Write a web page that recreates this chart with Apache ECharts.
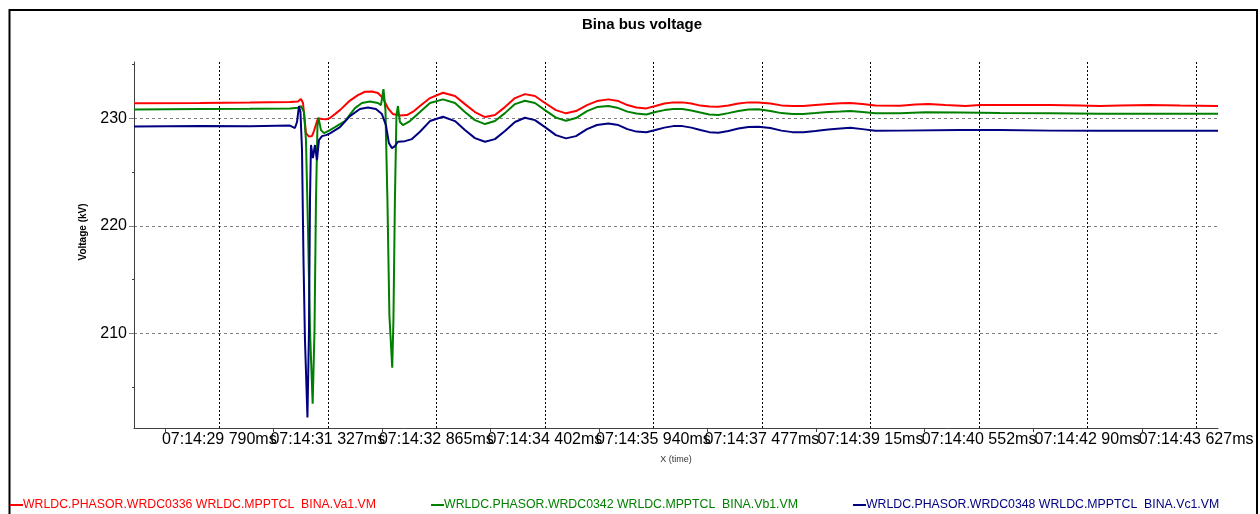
<!DOCTYPE html>
<html>
<head>
<meta charset="utf-8">
<script src="https://cdn.jsdelivr.net/npm/echarts@6/dist/echarts.min.js"></script>
<style>
  html, body { margin: 0; padding: 0; background: #fff; }
  #chart { width: 1260px; height: 514px; }
</style>
</head>
<body>
<div id="chart"></div>
<script>
// time in ms after 07:14:00, voltage in kV
var seriesNames = [
  'WRLDC.PHASOR.WRDC0336 WRLDC.MPPTCL  BINA.Va1.VM',
  'WRLDC.PHASOR.WRDC0342 WRLDC.MPPTCL  BINA.Vb1.VM',
  'WRLDC.PHASOR.WRDC0348 WRLDC.MPPTCL  BINA.Vc1.VM'
];
var seriesColors = ['#ff0000', '#008000', '#000080'];

var xTickMs = [29790, 31327.5, 32865, 34402.5, 35940, 37477.5, 39015, 40552.5, 42090, 43627.5];
var yLabelTicks = [210, 220, 230];
var yMinorTicks = [205, 215, 225, 235];

var vaData = [
  [28582, 231.40], [29517, 231.43], [30225, 231.47], [30792, 231.52], [30905, 231.57],
  [30947, 231.80], [30976, 231.43], [31018, 228.63], [31061, 228.30], [31103, 228.35],
  [31131, 228.82], [31188, 230.00], [31245, 229.95], [31302, 229.91], [31358, 230.03],
  [31500, 230.77], [31641, 231.66], [31754, 232.17], [31854, 232.48], [31953, 232.50],
  [32038, 232.36], [32108, 231.89], [32179, 230.96], [32250, 230.40], [32349, 230.26],
  [32448, 230.31], [32548, 230.68], [32633, 231.15], [32775, 231.89], [32959, 232.39],
  [33129, 232.08], [33270, 231.33], [33412, 230.59], [33554, 230.12], [33695, 230.31],
  [33837, 231.05], [33979, 231.89], [34120, 232.26], [34262, 232.08], [34404, 231.43],
  [34559, 230.77], [34701, 230.47], [34843, 230.68], [34999, 231.24], [35140, 231.61],
  [35302, 231.77], [35444, 231.61], [35571, 231.24], [35699, 231.01], [35840, 230.93],
  [35968, 231.15], [36095, 231.38], [36222, 231.49], [36350, 231.49], [36477, 231.38],
  [36605, 231.19], [36732, 231.10], [36860, 231.08], [37002, 231.19], [37144, 231.38],
  [37285, 231.49], [37427, 231.49], [37597, 231.38], [37753, 231.21], [37909, 231.15],
  [38064, 231.15], [38234, 231.24], [38418, 231.33], [38588, 231.40], [38730, 231.43],
  [38900, 231.33], [39084, 231.21], [39438, 231.17], [39651, 231.29], [39835, 231.33],
  [40076, 231.24], [40359, 231.15], [40571, 231.24], [40849, 231.24], [41557, 231.24],
  [41982, 231.21], [42266, 231.15], [42549, 231.19], [42974, 231.24], [43399, 231.19],
  [43938, 231.15]
];

var vbData = [
  [28582, 230.82], [29517, 230.87], [30225, 230.89], [30792, 230.93], [30905, 230.99],
  [30947, 231.15], [30990, 230.59], [31018, 227.98], [31046, 219.96], [31075, 210.27],
  [31113, 203.44], [31139, 210.27], [31160, 222.39], [31181, 229.38], [31195, 230.07],
  [31231, 228.91], [31273, 228.63], [31358, 228.91], [31429, 229.19], [31570, 229.75],
  [31712, 230.96], [31811, 231.43], [31924, 231.57], [32038, 231.43], [32080, 231.24],
  [32116, 232.73], [32144, 230.77], [32172, 222.39], [32200, 211.67], [32240, 206.79],
  [32257, 211.20], [32278, 222.39], [32300, 230.31], [32321, 231.15], [32349, 229.66],
  [32392, 229.38], [32491, 229.75], [32633, 230.59], [32775, 231.43], [32959, 231.77],
  [33129, 231.43], [33270, 230.59], [33412, 229.84], [33554, 229.47], [33695, 229.75],
  [33837, 230.49], [33979, 231.33], [34120, 231.64], [34262, 231.43], [34404, 230.77],
  [34559, 230.07], [34701, 229.78], [34843, 230.03], [34999, 230.68], [35140, 231.05],
  [35302, 231.15], [35444, 230.96], [35571, 230.63], [35699, 230.45], [35840, 230.37],
  [35968, 230.59], [36095, 230.77], [36222, 230.87], [36350, 230.87], [36477, 230.73],
  [36605, 230.54], [36732, 230.37], [36860, 230.31], [37002, 230.49], [37144, 230.68],
  [37285, 230.82], [37427, 230.84], [37597, 230.68], [37753, 230.49], [37909, 230.40],
  [38064, 230.40], [38234, 230.49], [38418, 230.59], [38588, 230.63], [38730, 230.68],
  [38900, 230.59], [39084, 230.47], [39438, 230.47], [39792, 230.56], [40288, 230.54],
  [40849, 230.49], [41557, 230.47], [42266, 230.43], [42974, 230.43], [43938, 230.43]
];

var vcData = [
  [28582, 229.24], [29517, 229.28], [30225, 229.26], [30792, 229.33], [30862, 229.10],
  [30891, 229.66], [30919, 231.15], [30940, 230.59], [30962, 227.05], [30983, 216.79],
  [31004, 209.34], [31039, 202.16], [31061, 210.27], [31075, 222.39], [31089, 227.52],
  [31117, 226.30], [31145, 227.52], [31174, 226.11], [31202, 227.98], [31245, 228.35],
  [31302, 228.44], [31358, 228.60], [31500, 229.19], [31641, 230.21], [31783, 230.87],
  [31896, 231.01], [32009, 230.87], [32094, 230.40], [32151, 229.38], [32193, 227.70],
  [32236, 227.23], [32278, 227.42], [32321, 227.82], [32420, 227.88], [32519, 228.07],
  [32633, 228.75], [32775, 229.75], [32959, 230.15], [33129, 229.75], [33270, 228.91],
  [33412, 228.16], [33554, 227.82], [33695, 228.07], [33837, 228.82], [33979, 229.66],
  [34120, 230.06], [34262, 229.84], [34404, 229.19], [34559, 228.44], [34701, 228.14],
  [34843, 228.35], [34999, 229.00], [35140, 229.38], [35302, 229.53], [35444, 229.38],
  [35571, 229.00], [35699, 228.77], [35840, 228.70], [35968, 228.91], [36095, 229.14],
  [36222, 229.28], [36350, 229.28], [36477, 229.14], [36605, 228.91], [36732, 228.72],
  [36860, 228.66], [37002, 228.82], [37144, 229.05], [37285, 229.19], [37427, 229.22],
  [37597, 229.10], [37753, 228.86], [37909, 228.72], [38064, 228.70], [38234, 228.82],
  [38418, 228.96], [38588, 229.05], [38730, 229.12], [38900, 229.00], [39084, 228.84],
  [39438, 228.86], [40288, 228.91], [40849, 228.91], [41557, 228.86], [42266, 228.84],
  [42974, 228.84], [43938, 228.84]
];

var xMin = 28582, xMax = 43938;
var yMin = 201.17, yMax = 235.25;

// half-way ticks between the labelled grid lines
var xStep = xTickMs[1] - xTickMs[0];
var xMidTicks = xTickMs.map(function (v) { return v - xStep / 2; });
// the labels overlap a little; put every other one on a second axis
// so echarts does not drop the first/last one
var xLabelsEven = xTickMs.filter(function (v, i) { return i % 2 === 0; });
var xLabelsOdd = xTickMs.filter(function (v, i) { return i % 2 === 1; });

function fmtTime(v) {
  var s = Math.floor(v / 1000);
  var ms = Math.floor(v % 1000);
  return '07:14:' + (s < 10 ? '0' + s : s) + ' ' + ms + 'ms';
}

var xLabelStyle = { formatter: fmtTime, fontSize: 16, color: '#000', margin: 4 };

var chart = echarts.init(document.getElementById('chart'), null, { renderer: 'canvas' });

var allData = [vaData, vbData, vcData];

var option = {
  backgroundColor: '#fff',
  animation: false,
  textStyle: { fontFamily: 'Liberation Sans, Arial, sans-serif' },
  title: {
    text: 'Bina bus voltage',
    left: 577,
    top: 12,
    textStyle: { fontSize: 15, fontWeight: 'bold', color: '#000', fontFamily: 'Liberation Sans, Arial, sans-serif' }
  },
  graphic: [{
    type: 'rect',
    shape: { x: 9.5, y: 10, width: 1247.5, height: 520 },
    style: { fill: null, stroke: '#000', lineWidth: 2 },
    silent: true
  }],
  legend: {
    left: 10,
    top: 499,
    padding: 0,
    itemWidth: 13,
    itemHeight: 2,
    itemGap: 55,
    icon: 'rect',
    textStyle: { fontSize: 12.3, padding: [0, 0, 0, -5] },
    data: seriesNames.map(function (n, i) {
      return { name: n, textStyle: { color: seriesColors[i] } };
    })
  },
  grid: { left: 134, right: 42, top: 62, bottom: 86 },
  xAxis: [{
    type: 'value',
    min: xMin,
    max: xMax,
    position: 'bottom',
    name: 'X (time)',
    nameLocation: 'middle',
    nameGap: 27,
    nameTextStyle: { fontSize: 9, color: '#333' },
    axisLine: { lineStyle: { color: '#404040', width: 1 } },
    axisTick: { show: false, customValues: xTickMs },
    axisLabel: Object.assign({ customValues: xLabelsEven }, xLabelStyle),
    splitLine: { show: true, lineStyle: { color: '#000', type: [2, 2], width: 1 } }
  }, {
    type: 'value',
    min: xMin,
    max: xMax,
    position: 'bottom',
    axisLine: { show: false },
    axisTick: { show: true, customValues: xMidTicks, length: 4, lineStyle: { color: '#404040' } },
    axisLabel: Object.assign({ customValues: xLabelsOdd }, xLabelStyle),
    splitLine: { show: false }
  }],
  yAxis: [{
    type: 'value',
    min: yMin,
    max: yMax,
    position: 'left',
    name: 'Voltage (kV)',
    nameLocation: 'middle',
    nameGap: 46,
    nameTextStyle: { fontSize: 10, fontWeight: 'bold', color: '#000', padding: [0, 0, 0, 26] },
    axisLine: { show: true, lineStyle: { color: '#404040', width: 1 } },
    axisTick: { show: true, customValues: yLabelTicks, length: 5, lineStyle: { color: '#808080' } },
    axisLabel: { customValues: yLabelTicks, fontSize: 16, color: '#000', margin: 7 },
    splitLine: { show: true, lineStyle: { color: '#808080', type: [3, 3], width: 1 } }
  }, {
    type: 'value',
    min: yMin,
    max: yMax,
    position: 'left',
    axisLine: { show: false },
    axisTick: { show: true, customValues: yMinorTicks, length: 2, lineStyle: { color: '#404040' } },
    axisLabel: { show: false },
    splitLine: { show: false }
  }],
  series: allData.map(function (d, i) {
    return {
      name: seriesNames[i],
      type: 'line',
      xAxisIndex: 0,
      yAxisIndex: 0,
      data: d,
      showSymbol: false,
      symbol: 'none',
      lineStyle: { color: seriesColors[i], width: 2 },
      itemStyle: { color: seriesColors[i] }
    };
  })
};

chart.setOption(option);
</script>
</body>
</html>
